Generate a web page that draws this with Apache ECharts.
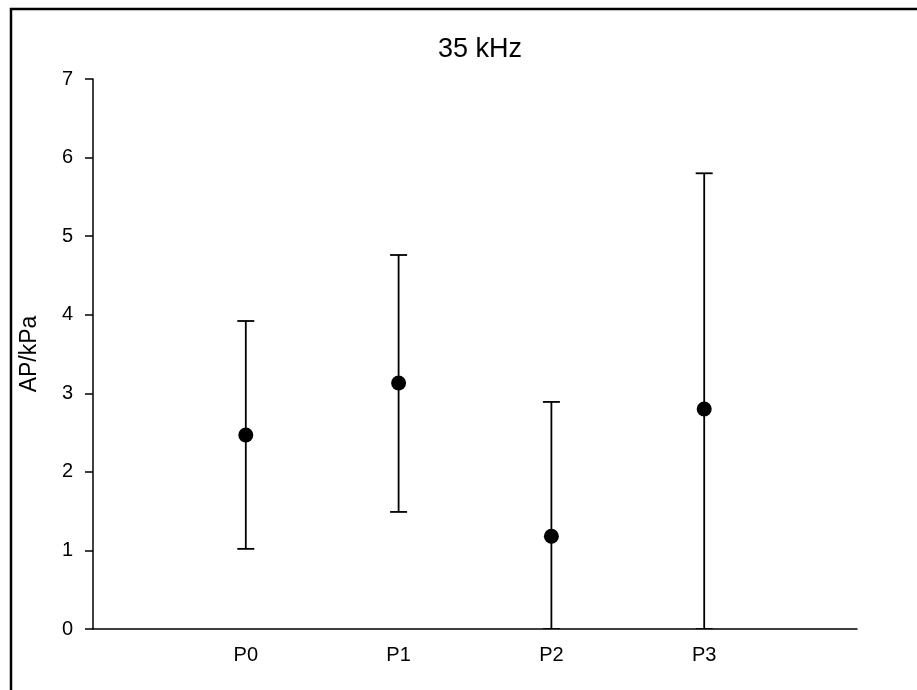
<!DOCTYPE html>
<html>
<head>
<meta charset="utf-8">
<script src="https://cdn.jsdelivr.net/npm/echarts@6/dist/echarts.min.js"></script>
<style>
html,body{margin:0;padding:0;background:#fff;}
#chart{width:917px;height:690px;}
</style>
</head>
<body>
<div id="chart"></div>
<script>
const categories = ['P0', 'P1', 'P2', 'P3'];
const positions = [1, 2, 3, 4];
const means = [2.47, 3.13, 1.18, 2.80];
const upper = [3.92, 4.76, 2.89, 5.80];
const lower = [1.02, 1.49, 0, 0];
const yTicks = [0, 1, 2, 3, 4, 5, 6, 7];

const chart = echarts.init(document.getElementById('chart'));
const font = '"Liberation Sans", Arial, sans-serif';

const errData = positions.map((p, i) => [p, lower[i], upper[i]]);
const meanData = positions.map((p, i) => [p, means[i]]);

chart.setOption({
  animation: false,
  backgroundColor: '#fff',
  title: {
    text: '35 kHz',
    left: 433,
    top: 31,
    textStyle: {fontFamily: font, fontSize: 27, fontWeight: 'normal', color: '#000'}
  },
  graphic: [{
    type: 'polyline',
    shape: {points: [[11, 700], [11, 9], [930, 9]]},
    style: {stroke: '#000', lineWidth: 2.5, fill: null}
  }],
  grid: {left: 93, right: 60, top: 79, bottom: 61, containLabel: false},
  xAxis: {
    type: 'value',
    min: 0, max: 5, interval: 1,
    axisLine: {show: true, lineStyle: {color: '#000', width: 1.5}},
    axisTick: {show: false},
    splitLine: {show: false},
    axisLabel: {
      margin: 16,
      fontFamily: font, fontSize: 20, color: '#000',
      formatter: v => { const i = positions.indexOf(v); return i >= 0 ? categories[i] : ''; }
    }
  },
  yAxis: {
    type: 'value',
    min: yTicks[0], max: yTicks[yTicks.length - 1], interval: 1,
    name: 'AP/kPa',
    nameLocation: 'middle',
    nameGap: 52,
    nameTextStyle: {fontFamily: font, fontSize: 23, color: '#000'},
    axisLine: {show: true, lineStyle: {color: '#000', width: 1.5}},
    axisTick: {show: true, inside: false, length: 8, lineStyle: {color: '#000', width: 1.5}},
    splitLine: {show: false},
    axisLabel: {margin: 20, fontFamily: font, fontSize: 20, color: '#000'}
  },
  series: [{
    type: 'custom',
    data: errData,
    clip: true,
    renderItem: function (params, api) {
      const x = api.value(0);
      const lo = api.coord([x, api.value(1)]);
      const hi = api.coord([x, api.value(2)]);
      const hw = 8.5;
      const st = {stroke: '#000', lineWidth: 1.8};
      return {
        type: 'group',
        children: [
          {type: 'line', shape: {x1: lo[0], y1: lo[1], x2: hi[0], y2: hi[1]}, style: st},
          {type: 'line', shape: {x1: hi[0] - hw, y1: hi[1], x2: hi[0] + hw, y2: hi[1]}, style: st},
          {type: 'line', shape: {x1: lo[0] - hw, y1: lo[1], x2: lo[0] + hw, y2: lo[1]}, style: st}
        ]
      };
    },
    z: 2
  }, {
    type: 'scatter',
    data: meanData,
    symbol: 'circle',
    symbolSize: 15,
    itemStyle: {color: '#000', opacity: 1},
    z: 3
  }]
});
</script>
</body>
</html>
